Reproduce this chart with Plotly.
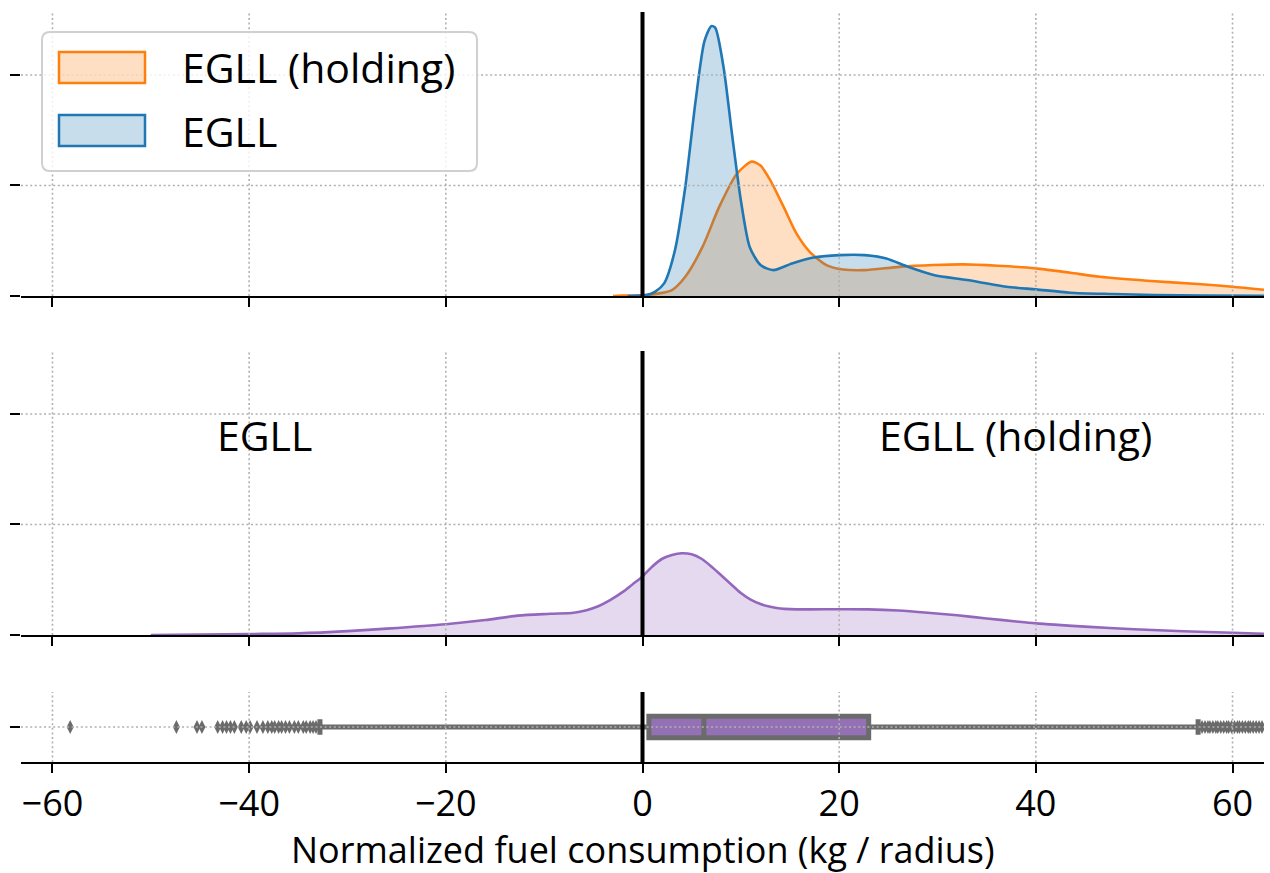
import plotly.graph_objects as go

# ---- data -------------------------------------------------------------
# KDE of normalized fuel consumption, EGLL arrivals (density)
egll_x = [-1.5, 0.4, 1.3, 2.2, 3.3, 4.35, 5.4, 6.3, 7.0, 7.4, 8.25, 9.1, 10.0,
          10.9, 12.0, 13.3, 15.2, 17.4, 20.0, 22.6, 24.8, 27.0, 29.6, 33.0,
          37.0, 40.0, 43.5, 47.8, 52.0, 57.0, 63.2]
egll_d = [0.0, 0.00045, 0.002, 0.0057, 0.0207, 0.0493, 0.0883, 0.1153, 0.1221,
          0.1213, 0.1033, 0.0733, 0.0433, 0.0222, 0.0140, 0.0117, 0.0147,
          0.0174, 0.0185, 0.0185, 0.0170, 0.0132, 0.0095, 0.0072, 0.0042,
          0.0030, 0.0015, 0.0009, 0.00045, 0.0002, 0.0001]

# KDE for EGLL arrivals with holding
hold_x = [-3.0, -2.0, 0.0, 1.7, 3.0, 4.35, 6.1, 7.8, 9.6, 11.1, 12.0, 13.0,
          14.35, 15.65, 17.0, 18.7, 20.4, 22.6, 26.1, 29.6, 32.6, 36.1, 40.0,
          43.5, 46.5, 51.3, 56.5, 60.0, 63.2]
hold_d = [0.0, 0.00015, 0.0003, 0.0012, 0.0027, 0.0087, 0.0222, 0.0403, 0.0553,
          0.0608, 0.0590, 0.0523, 0.0403, 0.0283, 0.0200, 0.0140, 0.0120,
          0.0117, 0.0132, 0.0140, 0.0143, 0.0137, 0.0125, 0.0105, 0.0087,
          0.0069, 0.0054, 0.0042, 0.0028]

# KDE of the difference (holding minus no holding)
diff_x = [-50, -40, -35, -30, -26, -20, -16, -12.7, -9.4, -7, -5.7,
          -4.5, -3.3, -2, -1, 0, 1, 2, 3, 4, 5, 6, 7, 8, 9, 10, 11, 12, 13,
          14, 15, 17, 20, 23, 26, 29, 32, 35, 38, 40, 45, 50, 55, 60, 63.2]
diff_d = [0.0, 0.00045, 0.00075, 0.00175, 0.0029, 0.0049, 0.00675,
          0.00875, 0.0096, 0.0101, 0.01125, 0.0130, 0.01575, 0.0195, 0.0230,
          0.0265, 0.0310, 0.0345, 0.03625, 0.0370, 0.0365, 0.0345, 0.0310,
          0.0270, 0.0230, 0.0190, 0.0160, 0.0140, 0.01275, 0.0120, 0.0117,
          0.0116, 0.01165, 0.0116, 0.0111, 0.0101, 0.0089, 0.0075, 0.0061,
          0.00525, 0.0038, 0.0026, 0.0017, 0.0010, 0.0005]

# Box-plot summary of the difference
box_q1 = 0.65
box_median = 6.24
box_q3 = 23.0
box_low = -32.8
box_high = 56.5
outliers = [-58.2, -47.4, -45.3, -44.8, -43.2, -42.7, -42.3, -41.9, -41.5,
            -40.8, -40.3, -39.9, -39.2, -38.6, -38.1, -37.7, -37.4, -37.0,
            -36.7, -36.3, -35.9, -35.4, -35.0, -34.5, -34.2, -33.8, -33.5,
            -33.2,
            56.9, 57.2, 57.5, 57.7, 58.0, 58.3, 58.5, 58.8, 59.1, 59.4, 59.6,
            59.9, 60.2, 60.5, 60.7, 61.0, 61.3, 61.6, 61.8, 62.1, 62.4, 62.7,
            63.0, 63.4]

x_ticks = [-60, -40, -20, 0, 20, 40, 60]
x_tick_text = ["\u221260", "\u221240", "\u221220", "0", "20", "40", "60"]
y_ticks = [0, 0.05, 0.10]
series_names = ["EGLL (holding)", "EGLL"]
panel_labels = ["EGLL", "EGLL (holding)"]
x_title = "Normalized fuel consumption (kg / radius)"

# ---- styling ----------------------------------------------------------
W, H = 1270, 873
FONT = "Open Sans"
FS = 41
TICK_FS = 36
TITLE_FS = 36
ORANGE, BLUE, PURPLE = "#ff7f0e", "#1f77b4", "#9467bd"
GRAY = "#6b6b6b"
GRID = "#b0b0b0"
X_RANGE = [-63.2, 63.2]
Y_RANGE = [0, 0.1285]


def px_x(p):
    return p / W


def px_y(p):
    return 1 - p / H


xdom = [px_x(21), px_x(1264)]
dom_top = [px_y(296), px_y(12)]
dom_mid = [px_y(635), px_y(351)]
dom_box = [px_y(762), px_y(692)]

fig = go.Figure()

fig.add_trace(go.Scatter(
    x=hold_x, y=hold_d, mode="lines", fill="tozeroy",
    fillcolor="rgba(255,127,14,0.25)",
    line=dict(color=ORANGE, width=2.6, shape="spline", smoothing=0.7),
    xaxis="x", yaxis="y", showlegend=False, name=series_names[0]))
fig.add_trace(go.Scatter(
    x=egll_x, y=egll_d, mode="lines", fill="tozeroy",
    fillcolor="rgba(31,119,180,0.25)",
    line=dict(color=BLUE, width=2.6, shape="spline", smoothing=0.7),
    xaxis="x", yaxis="y", showlegend=False, name=series_names[1]))
fig.add_trace(go.Scatter(
    x=diff_x, y=diff_d, mode="lines", fill="tozeroy",
    fillcolor="rgba(148,103,189,0.25)",
    line=dict(color=PURPLE, width=2.6, shape="spline", smoothing=0.8),
    xaxis="x2", yaxis="y2", showlegend=False))
fig.add_trace(go.Box(
    y=[0], q1=[box_q1], median=[box_median], q3=[box_q3],
    lowerfence=[box_low], upperfence=[box_high], orientation="h",
    fillcolor="#9471b4", line=dict(color=GRAY, width=5),
    width=0.31, whiskerwidth=0.72, boxpoints=False,
    xaxis="x3", yaxis="y3", showlegend=False, hoverinfo="skip"))
fig.add_trace(go.Scatter(
    x=outliers, y=[0] * len(outliers), mode="markers",
    marker=dict(symbol="diamond-tall", size=10, color=GRAY),
    xaxis="x3", yaxis="y3", showlegend=False))

xax = dict(range=X_RANGE, domain=xdom, tickvals=x_ticks, ticktext=x_tick_text,
           ticks="outside", ticklen=9, tickwidth=2, tickcolor="black",
           showline=True, linecolor="black", linewidth=2, showgrid=False,
           zeroline=False, layer="above traces",
           tickfont=dict(family=FONT, size=TICK_FS, color="black"))
yax = dict(showline=False, showgrid=False, zeroline=False, ticks="outside",
           ticklen=10, tickwidth=2, tickcolor="black", showticklabels=False)

fig.update_layout(
    width=W, height=H, margin=dict(l=0, r=0, t=0, b=0),
    paper_bgcolor="white", plot_bgcolor="white",
    xaxis=dict(xax, anchor="y", showticklabels=False),
    xaxis2=dict(xax, anchor="y2", showticklabels=False),
    xaxis3=dict(xax, anchor="y3", showticklabels=True),
    yaxis=dict(yax, domain=dom_top, range=Y_RANGE, tickvals=y_ticks,
               anchor="x"),
    yaxis2=dict(yax, domain=dom_mid, range=Y_RANGE, tickvals=y_ticks,
                anchor="x2"),
    yaxis3=dict(yax, domain=dom_box, range=[-0.5, 0.5], tickvals=[0],
                anchor="x3"),
)

grid_line = dict(color=GRID, width=1.6, dash="2px,2.6px")
shapes = []
# dotted grid drawn over the marks
for xa, ya, hvals in [("x", "y", y_ticks[1:]), ("x2", "y2", y_ticks[1:]),
                      ("x3", "y3", [0])]:
    for t in x_ticks:
        shapes.append(dict(type="line", xref=xa, yref=ya + " domain",
                           x0=t, x1=t, y0=0, y1=1, line=grid_line,
                           layer="above"))
    for h in hvals:
        shapes.append(dict(type="line", xref=xa + " domain", yref=ya,
                           x0=0, x1=1, y0=h, y1=h, line=grid_line,
                           layer="above"))
# zero reference line in every panel
for xa, ya in [("x", "y"), ("x2", "y2"), ("x3", "y3")]:
    shapes.append(dict(type="line", xref=xa, yref=ya + " domain",
                       x0=0, x1=0, y0=0, y1=1,
                       line=dict(color="black", width=4), layer="above"))

# legend frame with rounded corners
lx0, lx1, ly0, ly1, r = 42, 477, 32, 171, 8
frame = (f"M {px_x(lx0 + r)},{px_y(ly0)} L {px_x(lx1 - r)},{px_y(ly0)} "
         f"Q {px_x(lx1)},{px_y(ly0)} {px_x(lx1)},{px_y(ly0 + r)} "
         f"L {px_x(lx1)},{px_y(ly1 - r)} "
         f"Q {px_x(lx1)},{px_y(ly1)} {px_x(lx1 - r)},{px_y(ly1)} "
         f"L {px_x(lx0 + r)},{px_y(ly1)} "
         f"Q {px_x(lx0)},{px_y(ly1)} {px_x(lx0)},{px_y(ly1 - r)} "
         f"L {px_x(lx0)},{px_y(ly0 + r)} "
         f"Q {px_x(lx0)},{px_y(ly0)} {px_x(lx0 + r)},{px_y(ly0)} Z")
shapes.append(dict(type="path", xref="paper", yref="paper", path=frame,
                   fillcolor="rgba(255,255,255,0.8)",
                   line=dict(color="#d0d0d0", width=2), layer="above"))
patch_cols = [(ORANGE, "rgba(255,127,14,0.25)"), (BLUE, "rgba(31,119,180,0.25)")]
patch_rows = [(52, 83), (115, 146)]
for (lc, fc), (t, b) in zip(patch_cols, patch_rows):
    shapes.append(dict(type="rect", xref="paper", yref="paper",
                       x0=px_x(59), x1=px_x(145), y0=px_y(b), y1=px_y(t),
                       fillcolor=fc, line=dict(color=lc, width=2.5),
                       layer="above"))

annotations = []
for name, (t, b) in zip(series_names, patch_rows):
    annotations.append(dict(text=name, xref="paper", yref="paper",
                            x=px_x(180), y=px_y((t + b) / 2), xanchor="left",
                            yanchor="middle", showarrow=False,
                            font=dict(family=FONT, size=FS, color="black")))
for lab, xv in zip(panel_labels, [-38.4, 37.9]):
    annotations.append(dict(text=lab, xref="x2", yref="y2", x=xv, y=0.0905,
                            xanchor="center", yanchor="middle",
                            showarrow=False,
                            font=dict(family=FONT, size=FS, color="black")))
annotations.append(dict(text=x_title, xref="paper", yref="paper",
                        x=px_x(642.5), y=px_y(849), xanchor="center",
                        yanchor="middle", showarrow=False,
                        font=dict(family=FONT, size=TITLE_FS, color="black")))

fig.update_layout(shapes=shapes, annotations=annotations)
fig.write_html("out.html")
